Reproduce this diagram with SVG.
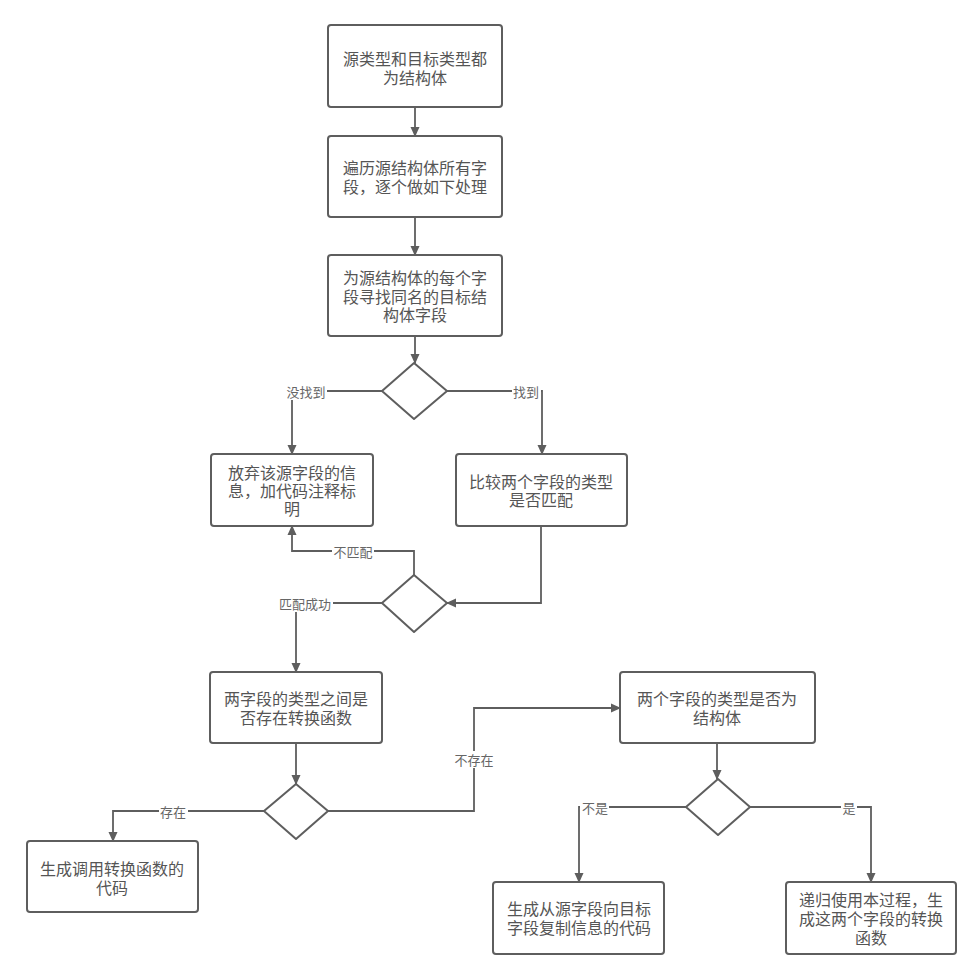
<svg xmlns="http://www.w3.org/2000/svg" width="970" height="964" viewBox="0 0 970 964">
<style>
.box{fill:#fff;stroke:#5e5e5e;stroke-width:2}
.dia{fill:#fff;stroke:#5e5e5e;stroke-width:2;stroke-linejoin:round}
.t{font-family:"Noto Sans CJK SC","Noto Sans",sans-serif;font-size:16px;fill:#555;text-anchor:middle;dominant-baseline:central}
.lb{font-family:"Noto Sans CJK SC","Noto Sans",sans-serif;font-size:13px;fill:#666;text-anchor:middle;dominant-baseline:central}
.c{fill:none;stroke:#5e5e5e;stroke-width:1.8}
.bg{fill:#fff}
</style>
<defs>
<marker id="ah" markerWidth="10" markerHeight="10" refX="9" refY="5" orient="auto" markerUnits="userSpaceOnUse">
<path d="M0,0.5 L10,5 L0,9.5 Z" fill="#5e5e5e"/>
</marker>
</defs>
<rect width="970" height="964" fill="#fff"/>
<g id="connectors">
<path class="c" d="M415,107 V136" marker-end="url(#ah)"/>
<path class="c" d="M415,217 V255" marker-end="url(#ah)"/>
<path class="c" d="M415,336 V363" marker-end="url(#ah)"/>
<path class="c" d="M382,391 H292 V454" marker-end="url(#ah)"/>
<path class="c" d="M447,391 H542 V454" marker-end="url(#ah)"/>
<path class="c" d="M541,526 V603 H447" marker-end="url(#ah)"/>
<path class="c" d="M414,575 V551 H292 V526" marker-end="url(#ah)"/>
<path class="c" d="M382,603 H296 V672" marker-end="url(#ah)"/>
<path class="c" d="M296,743 V784" marker-end="url(#ah)"/>
<path class="c" d="M328,811 H474 V708 H620" marker-end="url(#ah)"/>
<path class="c" d="M264,811 H113 V841" marker-end="url(#ah)"/>
<path class="c" d="M717,743 V779" marker-end="url(#ah)"/>
<path class="c" d="M686,807 H579 V882" marker-end="url(#ah)"/>
<path class="c" d="M750,807 H871 V882" marker-end="url(#ah)"/>
<rect class="bg" x="285" y="383" width="42" height="17"/>
<text class="lb" x="306" y="391">没找到</text>
<rect class="bg" x="512" y="383" width="29" height="17"/>
<text class="lb" x="526" y="391">找到</text>
<rect class="bg" x="332" y="543" width="42" height="17"/>
<text class="lb" x="353" y="551">不匹配</text>
<rect class="bg" x="277" y="595" width="56" height="17"/>
<text class="lb" x="305" y="603">匹配成功</text>
<rect class="bg" x="453" y="751" width="42" height="17"/>
<text class="lb" x="474" y="759">不存在</text>
<rect class="bg" x="159" y="803" width="29" height="17"/>
<text class="lb" x="173" y="811">存在</text>
<rect class="bg" x="580" y="799" width="29" height="17"/>
<text class="lb" x="595" y="807">不是</text>
<rect class="bg" x="841" y="799" width="16" height="17"/>
<text class="lb" x="849" y="807">是</text>
</g>
<g id="n1"><rect class="box" x="328" y="25" width="174" height="82" rx="3"/>
<text class="t" x="415" y="58">源类型和目标类型都</text><text class="t" x="415" y="77">为结构体</text></g>
<g id="n2"><rect class="box" x="328" y="136" width="174" height="81" rx="3"/>
<text class="t" x="415" y="167">遍历源结构体所有字</text><text class="t" x="415" y="186">段，逐个做如下处理</text></g>
<g id="n3"><rect class="box" x="328" y="255" width="174" height="81" rx="3"/>
<text class="t" x="415" y="277">为源结构体的每个字</text><text class="t" x="415" y="295.5">段寻找同名的目标结</text><text class="t" x="415" y="314">构体字段</text></g>
<g id="d1"><path class="dia" d="M414,363 L447,391 L414,419 L382,391 Z"/></g>
<g id="n4"><rect class="box" x="211" y="454" width="162" height="72" rx="3"/>
<text class="t" x="292" y="472">放弃该源字段的信</text><text class="t" x="292" y="490">息，加代码注释标</text><text class="t" x="292" y="508">明</text></g>
<g id="n5"><rect class="box" x="456" y="454" width="171" height="72" rx="3"/>
<text class="t" x="541" y="481">比较两个字段的类型</text><text class="t" x="541" y="499">是否匹配</text></g>
<g id="d2"><path class="dia" d="M414,575 L447,603 L414,632 L382,603 Z"/></g>
<g id="n6"><rect class="box" x="210" y="672" width="172" height="71" rx="3"/>
<text class="t" x="296" y="698">两字段的类型之间是</text><text class="t" x="296" y="717">否存在转换函数</text></g>
<g id="d3"><path class="dia" d="M296,784 L328,811 L296,839 L264,811 Z"/></g>
<g id="n7"><rect class="box" x="620" y="672" width="195" height="71" rx="3"/>
<text class="t" x="717" y="698">两个字段的类型是否为</text><text class="t" x="717" y="717">结构体</text></g>
<g id="d4"><path class="dia" d="M718,779 L750,807 L718,835 L686,807 Z"/></g>
<g id="n8"><rect class="box" x="27" y="841" width="171" height="71" rx="3"/>
<text class="t" x="112" y="868">生成调用转换函数的</text><text class="t" x="112" y="887">代码</text></g>
<g id="n9"><rect class="box" x="493" y="882" width="171" height="72" rx="3"/>
<text class="t" x="579" y="908">生成从源字段向目标</text><text class="t" x="579" y="927">字段复制信息的代码</text></g>
<g id="n10"><rect class="box" x="786" y="882" width="170" height="72" rx="3"/>
<text class="t" x="871" y="899">递归使用本过程，生</text><text class="t" x="871" y="918">成这两个字段的转换</text><text class="t" x="871" y="937">函数</text></g>
</svg>
